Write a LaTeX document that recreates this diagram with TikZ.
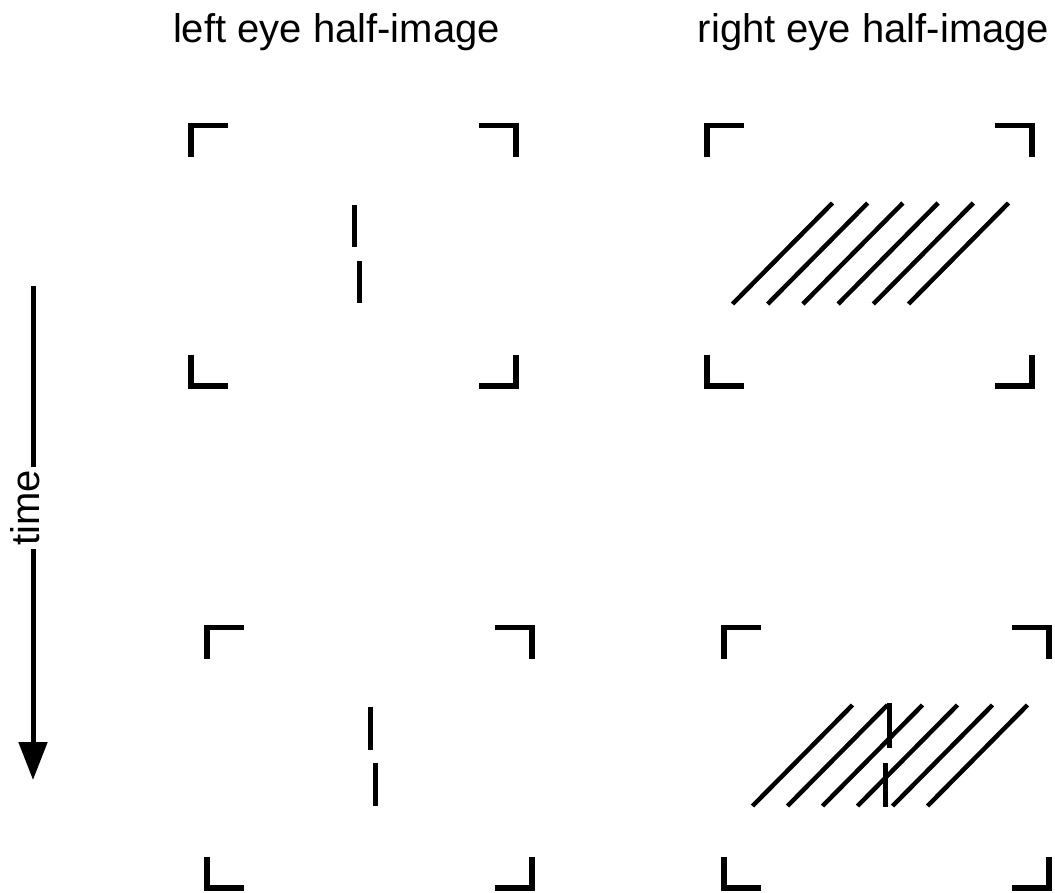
\documentclass[tikz,border=0pt]{standalone}
\usepackage{fontspec}
\setmainfont{Liberation Sans}
\usetikzlibrary{arrows.meta}
\begin{document}
\begin{tikzpicture}[x=1pt, y=-1pt,
    cornermark/.style={line width=5.5pt},
    stripe/.style={line width=5pt},
    hatchline/.style={line width=4.5pt},
    lbl/.style={font=\fontsize{40}{48}\selectfont, inner sep=0pt}]
    \useasboundingbox (0,0) rectangle (1055,892);
    \node[lbl, anchor=base] (leftlbl) at (336.5,42) {left eye half-image};
    \node[lbl, anchor=base] (rightlbl) at (873.5,42) {right eye half-image};
    \foreach \x/\y in {191/125.5, 707/125.5, 207/627.5, 724/627.5} {
        \draw[cornermark] (\x,\y+31.5) -- (\x,\y) -- (\x+37,\y);
        \draw[cornermark] (\x+288,\y) -- (\x+325,\y) -- (\x+325,\y+31.5);
        \draw[cornermark] (\x,\y+229) -- (\x,\y+260.5) -- (\x+37,\y+260.5);
        \draw[cornermark] (\x+288,\y+260.5) -- (\x+325,\y+260.5) -- (\x+325,\y+229);
    }
    \draw[stripe] (354,205) -- (354,247);
    \draw[stripe] (359.5,261) -- (359.5,303);
    \draw[stripe] (370,707) -- (370,750);
    \draw[stripe] (375,763) -- (375,806);
    \foreach \i in {0,...,5} {
        \draw[hatchline] (732.5+35.2*\i,304) -- ++(100,-101);
        \draw[hatchline] (752.5+35*\i,806) -- ++(100,-101);
    }
    \draw[stripe] (889,703) -- (889,748);
    \draw[stripe] (885,763) -- (885,807);
    \node[lbl, rotate=90, inner sep=3pt] (time) at (25,508) {time};
    \coordinate (ttop) at (33,286);
    \coordinate (tbot) at (33,780);
    \draw[line width=5pt] (ttop) -- (ttop |- time.east);
    \draw[line width=5pt, -{Triangle[length=38pt, width=28pt]}] (tbot |- time.west) -- (tbot);
\end{tikzpicture}
\end{document}
